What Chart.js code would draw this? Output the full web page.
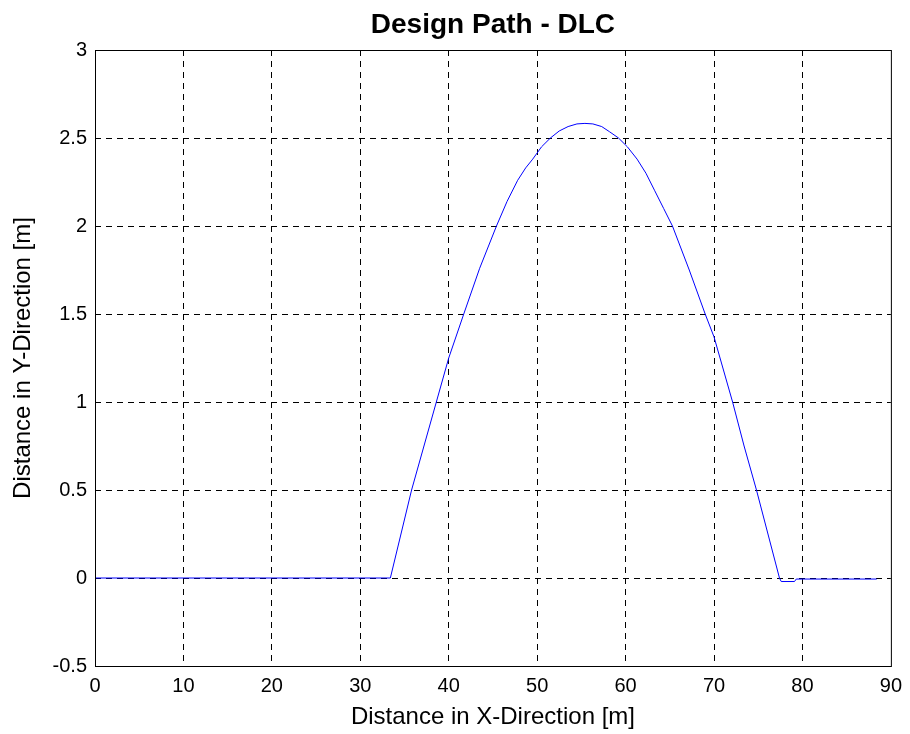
<!DOCTYPE html>
<html>
<head>
<meta charset="utf-8">
<script src="https://cdn.jsdelivr.net/npm/chart.js@4"></script>
<style>
  html, body { margin: 0; padding: 0; background: #fff; }
  #wrap { width: 910px; height: 734px; }
</style>
</head>
<body>
<div id="wrap"><canvas id="pathChart" width="910" height="734"></canvas></div>
<script>
// path: x [m], y [m]
const xValues = [0, 33.4, 34.6, 35.8, 37.2, 38.6, 40.0, 41.7, 43.5, 45.4, 46.6, 47.8, 48.7, 49.5,
  50.5, 51.5, 52.5, 53.5, 54.5, 55.4, 56.3, 57.3, 58.2, 59.2, 60.2, 61.3, 62.3, 63.3, 64.3,
  65.3, 67.2, 69.0, 70.0, 72.1, 73.4, 74.8, 76.1, 77.4, 77.6, 79.1, 79.3, 88.4];
const yValues = [0, 0, 0.25, 0.5, 0.75, 1.0, 1.25, 1.5, 1.76, 2.0, 2.14, 2.26, 2.33, 2.38,
  2.45, 2.5, 2.54, 2.565, 2.58, 2.583, 2.58, 2.565, 2.535, 2.5, 2.45, 2.38, 2.3, 2.2, 2.1,
  2.0, 1.75, 1.5, 1.37, 1.0, 0.75, 0.5, 0.25, 0, -0.02, -0.02, -0.006, -0.006];
const xTicks = [0, 10, 20, 30, 40, 50, 60, 70, 80, 90];
const yTicks = [-0.5, 0, 0.5, 1, 1.5, 2, 2.5, 3];

const points = xValues.map((x, i) => ({ x: x, y: yValues[i] }));

// solid box round the plot area, like the matlab axes
const frame = {
  id: "frame",
  afterDraw(chart) {
    const a = chart.chartArea;
    const ctx = chart.ctx;
    ctx.save();
    ctx.strokeStyle = "#000";
    ctx.lineWidth = 1;
    ctx.strokeRect(a.left + 0.5, a.top + 0.5, a.right - a.left, a.bottom - a.top);
    ctx.restore();
  }
};

const font = "Arial, 'Liberation Sans', sans-serif";

// no dashed grid line on the box edges
function gridColor(ctx) {
  const n = ctx.scale.ticks.length;
  return (ctx.index === 0 || ctx.index === n - 1) ? "rgba(0,0,0,0)" : "#000";
}

new Chart(document.getElementById("pathChart"), {
  type: "scatter",
  data: {
    datasets: [{
      data: points,
      showLine: true,
      borderColor: "#0000ff",
      borderWidth: 1,
      pointRadius: 0,
      tension: 0
    }]
  },
  options: {
    responsive: false,
    animation: false,
    layout: { padding: { top: 0, right: 19, bottom: 0, left: 0 } },
    plugins: {
      legend: { display: false },
      tooltip: { enabled: false },
      title: {
        display: true,
        fullSize: false,
        text: "Design Path - DLC",
        color: "#000",
        font: { family: font, size: 28, weight: "bold", lineHeight: 1.2 },
        padding: { top: 8, bottom: 8.4 }
      }
    },
    scales: {
      x: {
        type: "linear",
        min: 0,
        max: 90,
        afterBuildTicks: s => { s.ticks = xTicks.map(v => ({ value: v })); },
        afterFit: s => { s.height = 68; },
        grid: { color: gridColor, drawTicks: false, tickLength: 0 },
        border: { display: false, dash: [6, 5] },
        ticks: { color: "#000", font: { family: font, size: 20 }, padding: 8, maxRotation: 0,
          callback: v => String(v) },
        title: {
          display: true,
          text: "Distance in X-Direction [m]",
          color: "#000",
          font: { family: font, size: 24 },
          padding: { top: 0, bottom: 2.6 }
        }
      },
      y: {
        type: "linear",
        min: -0.5,
        max: 3,
        afterBuildTicks: s => { s.ticks = yTicks.map(v => ({ value: v })); },
        afterFit: s => { s.width = 95; },
        grid: { color: gridColor, drawTicks: false, tickLength: 0 },
        border: { display: false, dash: [6, 5] },
        ticks: { color: "#000", font: { family: font, size: 20 }, padding: 8,
          callback: v => String(v) },
        title: {
          display: true,
          text: "Distance in Y-Direction [m]",
          color: "#000",
          font: { family: font, size: 24 },
          padding: { top: 9, bottom: 0 }
        }
      }
    }
  },
  plugins: [frame]
});
</script>
</body>
</html>
